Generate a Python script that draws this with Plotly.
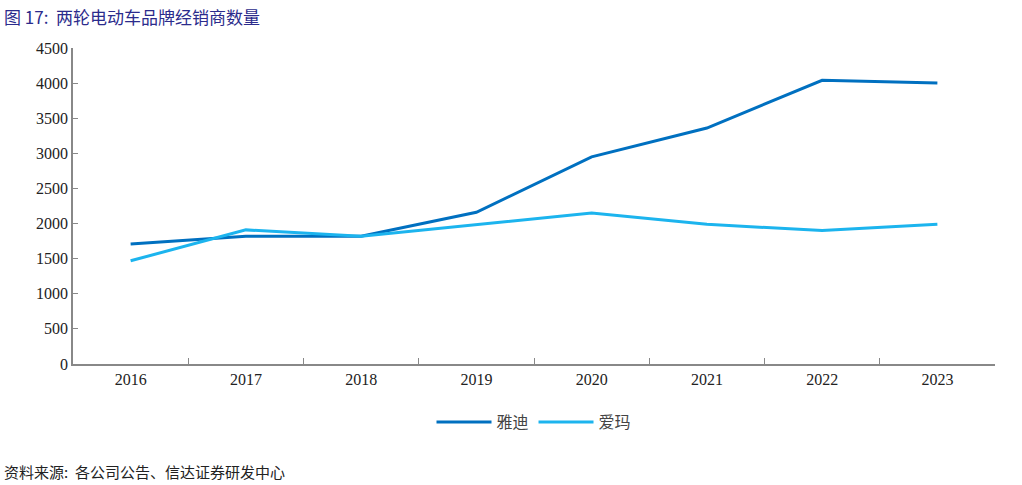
import plotly.graph_objects as go

years = ["2016", "2017", "2018", "2019", "2020", "2021", "2022", "2023"]
yadea = [1710, 1820, 1820, 2160, 2950, 3360, 4040, 4000]
aima = [1470, 1910, 1820, 1990, 2150, 1990, 1900, 1990]
y_ticks = [0, 500, 1000, 1500, 2000, 2500, 3000, 3500, 4000, 4500]

fig = go.Figure()
fig.add_trace(go.Scatter(x=years, y=yadea, name="雅迪", mode="lines",
                         line=dict(color="#0070C0", width=3)))
fig.add_trace(go.Scatter(x=years, y=aima, name="爱玛", mode="lines",
                         line=dict(color="#1CB4EE", width=3)))

fig.update_layout(
    width=1022, height=485,
    margin=dict(l=73, r=27, t=48, b=121, autoexpand=False),
    paper_bgcolor="white", plot_bgcolor="white",
    font=dict(family="Liberation Serif", size=15, color="#222"),
    showlegend=True,
    legend=dict(orientation="h", x=0.5, xanchor="center", y=-0.13, yanchor="top",
                font=dict(family="Noto Sans CJK SC", size=16, color="#444"),
                itemwidth=55, tracegroupgap=0),
    annotations=[
        dict(text="图 17:  两轮电动车品牌经销商数量", x=0, y=1, xref="paper", yref="paper",
             xanchor="left", yanchor="top", showarrow=False,
             font=dict(family="Noto Sans CJK SC", size=17, color="#2B2B8C"),
             xshift=-71, yshift=46),
        dict(text="资料来源:  各公司公告、信达证券研发中心", x=0, y=0, xref="paper", yref="paper",
             xanchor="left", yanchor="top", showarrow=False,
             font=dict(family="Noto Sans CJK SC", size=15, color="#222"),
             xshift=-71, yshift=-95),
    ],
)
fig.update_xaxes(type="category", range=[-0.5, 7.5], showline=True, linecolor="#888", linewidth=1.5,
                 ticks="inside", tickson="boundaries", ticklen=6, tickcolor="#888",
                 showgrid=False, tickfont=dict(family="Liberation Serif", size=16, color="#222"))
fig.update_yaxes(range=[0, 4500], tickvals=y_ticks, showline=True, linecolor="#888",
                 linewidth=1.5, ticks="inside", ticklen=5, tickcolor="#888",
                 showgrid=False, zeroline=False,
                 tickfont=dict(family="Liberation Serif", size=16, color="#222"))

fig.write_html("out.html", config={"displayModeBar": False},
               post_script="document.body.style.margin='0';")
